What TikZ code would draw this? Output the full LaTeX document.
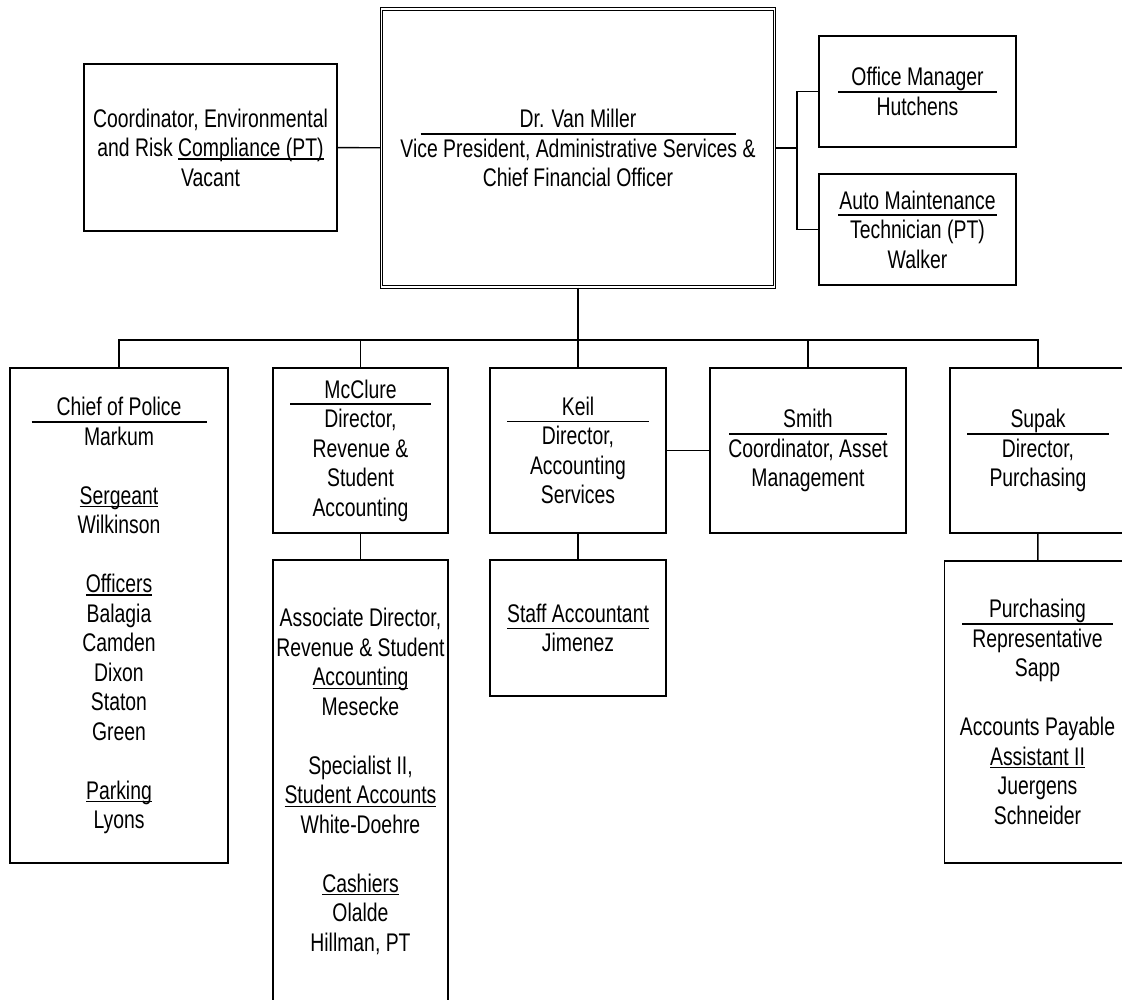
\documentclass[tikz,border=0pt]{standalone}
\usepackage{fontspec}
\setmainfont[FakeStretch=0.76]{Liberation Sans}
\newcommand\hdr[2]{\makebox[#1]{#2}\llap{\rule[-7pt]{#1}{1.8pt}}}
\newcommand\uln[1]{\setbox0\hbox{#1}\rlap{\rule[-3pt]{\wd0}{1.2pt}}\box0}
\newcommand\gap{\\[29.5pt]}
\tikzset{
  post/.style={draw, line width=1.8pt, align=center, inner sep=0pt,
    font=\fontsize{25.5}{29.5}\selectfont},
  wire/.style={line width=1.4pt}
}

\begin{document}
\begin{tikzpicture}[x=1pt, y=-1pt]
  \useasboundingbox (0,0) rectangle (1122,1000);
  \clip (0,0) rectangle (1122,1000);

  % top row
  \node[post, double, line width=1.2pt, double distance=1.5pt,
        minimum width=393pt, minimum height=278pt] (vp) at (578,148)
    {\hdr{315pt}{Dr. Van Miller}\\Vice President, Administrative Services \&\\Chief Financial Officer};
  \node[post, minimum width=253pt, minimum height=167pt] (coord) at (210.5,147.5)
    {Coordinator, Environmental\\and Risk \uln{Compliance (PT)}\\Vacant};
  \node[post, minimum width=197pt, minimum height=111pt] (office) at (917.5,91.5)
    {\hdr{159pt}{Office Manager}\\Hutchens};
  \node[post, minimum width=197pt, minimum height=111pt] (auto) at (917.5,229.5)
    {\hdr{159pt}{Auto Maintenance}\\Technician (PT)\\Walker};

  % directors
  \node[post, minimum width=218pt, minimum height=495pt] (police) at (119,615.5)
    {\hdr{175pt}{Chief of Police}\\Markum\gap\uln{Sergeant}\\Wilkinson\gap
     \uln{Officers}\\Balagia\\Camden\\Dixon\\Staton\\Green\gap\uln{Parking}\\Lyons};
  \node[post, minimum width=175pt, minimum height=165pt] (mcclure) at (360.5,450.5)
    {\hdr{141pt}{McClure}\\Director,\\Revenue \&\\Student\\Accounting};
  \node[post, minimum width=176pt, minimum height=165pt] (keil) at (578,450.5)
    {\hdr{142pt}{Keil}\\Director,\\Accounting\\Services};
  \node[post, minimum width=196pt, minimum height=165pt] (smith) at (808,450.5)
    {\hdr{158pt}{Smith}\\Coordinator, Asset\\Management};
  \node[post, minimum width=176pt, minimum height=165pt] (supak) at (1038,450.5)
    {\hdr{142pt}{Supak}\\Director,\\Purchasing};

  % staff
  \node[post, minimum width=175pt, minimum height=443pt] (assoc) at (360.5,781.5)
    {Associate Director,\\Revenue \& Student\\\uln{Accounting}\\Mesecke\gap
     Specialist II,\\\uln{Student Accounts}\\White-Doehre\gap
     \uln{Cashiers}\\Olalde\\Hillman, PT};
  \node[post, minimum width=176pt, minimum height=136pt] (staff) at (578,628)
    {\hdr{142pt}{Staff Accountant}\\Jimenez};
  \node[post, minimum width=186pt, minimum height=302pt] (purch) at (1037.5,712)
    {\hdr{151pt}{Purchasing}\\Representative\\Sapp\gap
     Accounts Payable\\\uln{Assistant II}\\Juergens\\Schneider};

  % lines
  \coordinate (rj) at (797,148);
  \coordinate (bus) at (578,340);
  \draw[wire] (coord) -- (vp);
  \draw[wire] (vp.east) -- (rj);
  \draw[wire] (office.west) -| (rj) |- (auto.west);
  \draw[wire] (vp.south) -- (bus);
  \foreach \n in {police, mcclure, keil, smith, supak}
    \draw[wire] (\n.north) |- (bus);
  \draw[wire] (mcclure) -- (assoc);
  \draw[wire] (keil) -- (staff);
  \draw[wire] (keil) -- (smith);
  \draw[wire] (supak) -- (purch);
\end{tikzpicture}
\end{document}
